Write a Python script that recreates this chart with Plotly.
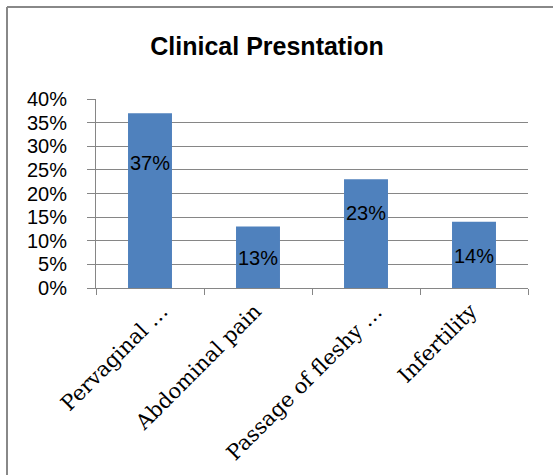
import plotly.graph_objects as go

categories = ["Pervaginal …", "Abdominal pain", "Passage of fleshy …", "Infertility"]
values = [0.37, 0.13, 0.23, 0.14]
value_labels = ["37%", "13%", "23%", "14%"]
y_ticks = [0, 0.05, 0.10, 0.15, 0.20, 0.25, 0.30, 0.35, 0.40]
y_tick_labels = ["0%", "5%", "10%", "15%", "20%", "25%", "30%", "35%", "40%"]
title_text = "Clinical Presntation"

# pixel offsets (style only)
label_shift = [-50, -31, -34, -34]      # data labels below bar tops
cat_label_xshift = [26, 11, 24, 11]     # category labels along axis

W, H = 553, 475
ML, MR, MT, MB = 96, 25, 99, 187
grid = "#868686"

fig = go.Figure()
fig.add_trace(go.Bar(
    x=categories, y=values,
    marker=dict(color="#4F81BD", line=dict(width=0)),
    hoverinfo="skip",
))

for c, v, t, s in zip(categories, values, value_labels, label_shift):
    fig.add_annotation(x=c, y=v, text=t, showarrow=False, yanchor="middle",
                       yshift=s, font=dict(family="Liberation Sans", size=20, color="#000000"))

# rotated category labels
for c, xs in zip(categories, cat_label_xshift):
    fig.add_annotation(x=c, y=0, xref="x", yref="y", text=c, showarrow=False,
                       textangle=-45, xanchor="right", yanchor="top",
                       xshift=xs, yshift=-8,
                       font=dict(family="DejaVu Serif", size=21, color="#000000"))

pw = W - ML - MR
ph = H - MT - MB
# border lines (top and left) of the chart frame
fig.add_shape(type="line", xref="paper", yref="paper",
              x0=(7 - ML) / pw, x1=(W - ML) / pw, y0=(H - MB - 7) / ph, y1=(H - MB - 7) / ph,
              line=dict(color="#888888", width=2), layer="above")
fig.add_shape(type="line", xref="paper", yref="paper",
              x0=(7 - ML) / pw, x1=(7 - ML) / pw, y0=(H - MB - 7) / ph, y1=-MB / ph,
              line=dict(color="#888888", width=2), layer="above")

fig.update_layout(
    width=W, height=H,
    margin=dict(l=ML, r=MR, t=MT, b=MB, pad=0),
    paper_bgcolor="white", plot_bgcolor="white",
    bargap=0.593,
    showlegend=False,
    title=dict(text="<b>" + title_text + "</b>", x=267 / W, xanchor="center",
               y=1 - 46 / H, yanchor="middle", yref="container",
               font=dict(family="Liberation Sans", size=25, color="#000000")),
    xaxis=dict(
        type="category", tickson="boundaries",
        range=[-0.5, len(categories) - 0.5],
        automargin=False, showticklabels=False,
        showline=True, linecolor=grid, linewidth=1,
        ticks="outside", ticklen=6, tickcolor=grid, tickwidth=1,
        showgrid=False,
    ),
    yaxis=dict(
        range=[0, 0.40], tickvals=y_ticks, ticktext=y_tick_labels,
        automargin=False,
        showline=True, linecolor=grid, linewidth=1,
        ticks="outside", ticklen=8, tickcolor=grid, tickwidth=1,
        showgrid=True, gridcolor=grid, gridwidth=1,
        zeroline=False,
        ticklabelstandoff=16,
        tickfont=dict(family="Liberation Sans", size=20, color="#000000"),
    ),
)

fig.write_html("out.html")
